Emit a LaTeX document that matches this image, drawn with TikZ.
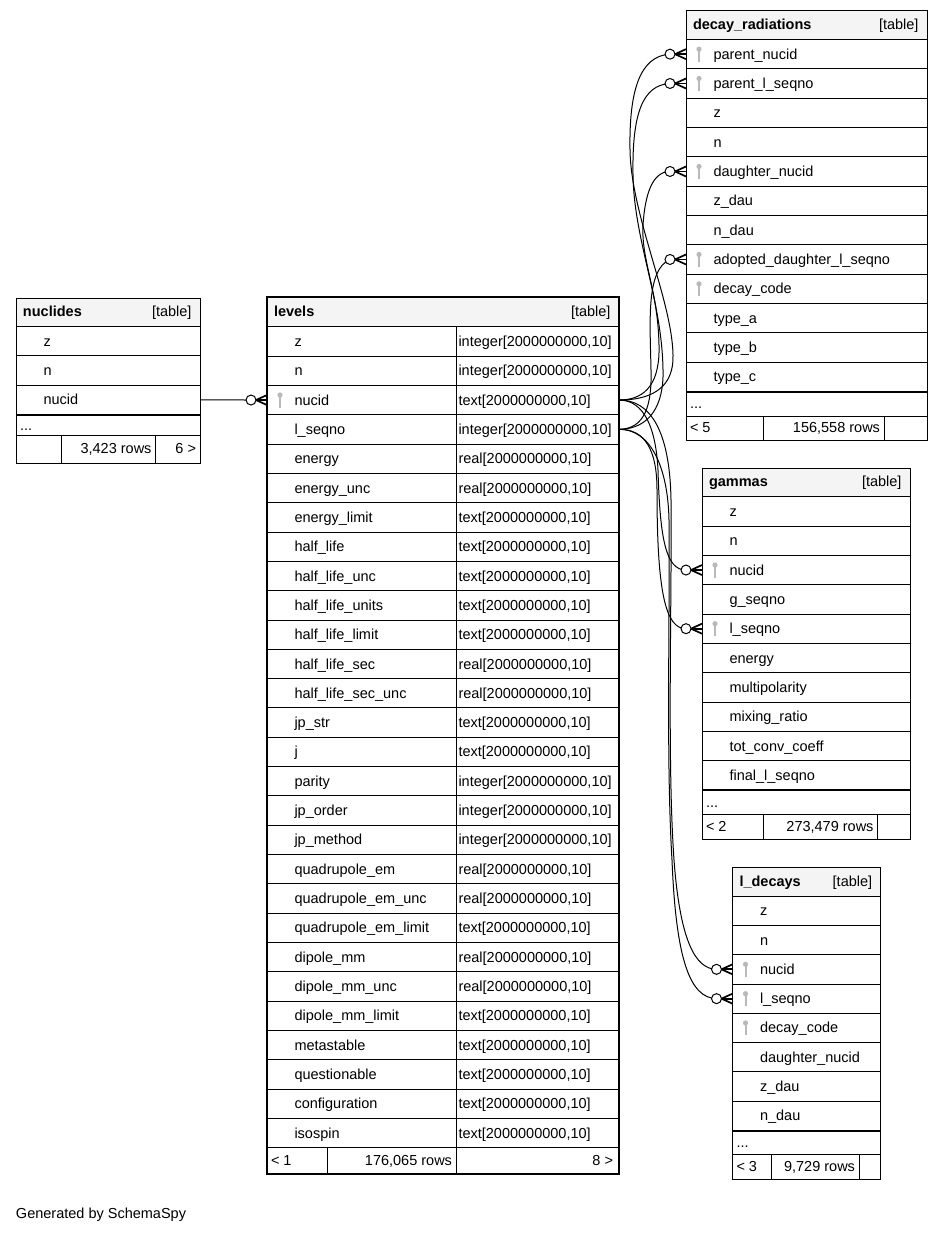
\documentclass[tikz,border=0pt]{standalone}
\usepackage{fontspec}
\setmainfont{Liberation Sans}
\usetikzlibrary{calc}
\definecolor{hdrfill}{RGB}{244,244,244}
\definecolor{keygray}{RGB}{185,185,185}
\newcommand\Tint{integer[2000000000,10]}
\newcommand\Ttext{text[2000000000,10]}
\newcommand\Treal{real[2000000000,10]}
\tikzset{
  every node/.style={font=\fontsize{14.5}{17}\selectfont, inner sep=0pt, outer sep=0pt},
  rowbox/.style={draw=black, line width=1pt, anchor=north west, minimum height=29.33pt, rectangle},
  lbl/.style={anchor=base west},
  rlbl/.style={anchor=base east},
  conn/.style={draw=black, line width=1pt},
  crowline/.style={draw=black, line width=1.7pt},
  ocircle/.style={draw=black, fill=white, line width=1pt},
  tline/.style={draw=black, line width=1pt},
  thickline/.style={draw=black, line width=2pt},
}
% key icon
\newcommand\keyicon[2]{%
  \fill[keygray] (#1,#2-5) circle (2.6pt);
  \draw[keygray, line width=2pt] (#1,#2-3) -- (#1,#2+7.5);}
% rows: #1 id, #2 left, #3 width, #4 first row top, #5 divider offset (0 none), #6 list
\newcommand\dbrows[6]{%
  \foreach \nm/\ky/\ty [count=\i] in {#6} {
    \pgfmathsetmacro\yt{#4+(\i-1)*29.33}
    \pgfmathsetmacro\yc{\yt+14.665}
    \node[rowbox, minimum width=#3pt] (#1-\i) at (#2,\yt) {};
    \node[lbl] (#1-\i-t) at (#2+27.5,\yc+5) {\nm};
    \ifnum\ky=1 \keyicon{#2+13}{\yc}\fi
    \ifdim #5pt>0pt
      \draw[tline] (#2+#5,\yt) -- (#2+#5,\yt+29.33);
      \node[lbl] (#1-\i-ty) at (#2+#5+2.5,\yc+5) {\ty};
    \fi
  }}
% header: #1 id, #2 left, #3 right, #4 top, #5 bottom, #6 title
\newcommand\dbhead[6]{%
  \fill[hdrfill] (#2,#4) rectangle (#3,#5);
  \draw[tline] (#2,#4) rectangle (#3,#5);
  \node[lbl] (#1-title) at (#2+7,{(#4+#5)/2+4.5}) {\textbf{#6}};
  \node[rlbl] (#1-kind) at (#3-8.5,{(#4+#5)/2+4.5}) {[table]};}
% crow's foot with circle: #1 row node
\newcommand\crowend[1]{%
  \draw[crowline] ($(#1.west)+(-11,0)$) -- ($(#1.west)+(0,-5)$);
  \draw[crowline] ($(#1.west)+(-11,0)$) -- (#1.west);
  \draw[crowline] ($(#1.west)+(-11,0)$) -- ($(#1.west)+(0,5)$);
  \draw[ocircle] ($(#1.west)+(-16,0)$) circle (5pt);}

\begin{document}
\begin{tikzpicture}[x=1pt,y=-1pt]
\fill[white] (0,0) rectangle (943,1233);
\useasboundingbox (0,0) rectangle (943,1233);

% ---------------- nuclides
\dbhead{nu}{16}{200}{298}{326.5}{nuclides}
\dbrows{nu}{16}{184}{326.5}{0}{z/0/-, n/0/-, nucid/0/-}
\draw[tline] (16,414.5) rectangle (200,463);
\draw[thickline] (16,414.5) -- (200,414.5);
\draw[tline] (16,435.5) -- (200,435.5);
\node[lbl] (nu-dots) at (20,430.5) {...};
\draw[tline] (61.7,435.5) -- (61.7,463);
\draw[tline] (155.7,435.5) -- (155.7,463);
\node[rlbl] (nu-rows) at (151.5,453.5) {3,423 rows};
\node[rlbl] (nu-next) at (196,453.5) {6 >};

% ---------------- levels
\dbhead{lv}{267}{619}{297}{326.7}{levels}
\dbrows{lv}{267}{352}{326.7}{189}{z/0/\Tint, n/0/\Tint, nucid/1/\Ttext, l\_seqno/0/\Tint,
 energy/0/\Treal, energy\_unc/0/\Treal, energy\_limit/0/\Ttext, half\_life/0/\Ttext,
 half\_life\_unc/0/\Ttext, half\_life\_units/0/\Ttext, half\_life\_limit/0/\Ttext,
 half\_life\_sec/0/\Treal, half\_life\_sec\_unc/0/\Treal, jp\_str/0/\Ttext, j/0/\Ttext,
 parity/0/\Tint, jp\_order/0/\Tint, jp\_method/0/\Tint, quadrupole\_em/0/\Treal,
 quadrupole\_em\_unc/0/\Treal, quadrupole\_em\_limit/0/\Ttext, dipole\_mm/0/\Treal,
 dipole\_mm\_unc/0/\Treal, dipole\_mm\_limit/0/\Ttext, metastable/0/\Ttext,
 questionable/0/\Ttext, configuration/0/\Ttext, isospin/0/\Ttext}
\draw[tline] (267,1147.9) rectangle (619,1174);
\draw[tline] (327.7,1147.9) -- (327.7,1174);
\draw[tline] (456,1147.9) -- (456,1174);
\node[lbl] (lv-prev) at (271,1165.5) {< 1};
\node[rlbl] (lv-rows) at (452,1165.5) {176,065 rows};
\node[rlbl] (lv-next) at (613,1165.5) {8 >};
\draw[draw=black, line width=2.8pt] (267,297) rectangle (619,1174);

% ---------------- decay_radiations
\dbhead{dr}{686}{927}{11}{39.5}{decay\_radiations}
\dbrows{dr}{686}{241}{39.5}{0}{parent\_nucid/1/-, parent\_l\_seqno/1/-, z/0/-, n/0/-,
 daughter\_nucid/1/-, z\_dau/0/-, n\_dau/0/-, adopted\_daughter\_l\_seqno/1/-,
 decay\_code/1/-, type\_a/0/-, type\_b/0/-, type\_c/0/-}
\draw[tline] (686,391.5) rectangle (927,440);
\draw[thickline] (686,391.5) -- (927,391.5);
\draw[tline] (686,416) -- (927,416);
\node[lbl] (dr-dots) at (690,408.5) {...};
\draw[tline] (763.3,416) -- (763.3,440);
\draw[tline] (884.3,416) -- (884.3,440);
\node[lbl] (dr-prev) at (690,432.5) {< 5};
\node[rlbl] (dr-rows) at (880,432.5) {156,558 rows};

% ---------------- gammas
\dbhead{ga}{702}{910}{468.2}{496.7}{gammas}
\dbrows{ga}{702}{208}{496.7}{0}{z/0/-, n/0/-, nucid/1/-, g\_seqno/0/-, l\_seqno/1/-,
 energy/0/-, multipolarity/0/-, mixing\_ratio/0/-, tot\_conv\_coeff/0/-, final\_l\_seqno/0/-}
\draw[tline] (702,790) rectangle (910,839);
\draw[thickline] (702,790) -- (910,790);
\draw[tline] (702,814) -- (910,814);
\node[lbl] (ga-dots) at (706,807) {...};
\draw[tline] (763.3,814) -- (763.3,839);
\draw[tline] (877.7,814) -- (877.7,839);
\node[lbl] (ga-prev) at (706,831) {< 2};
\node[rlbl] (ga-rows) at (873.5,831) {273,479 rows};

% ---------------- l_decays
\dbhead{ld}{732.5}{880.7}{867}{896}{l\_decays}
\dbrows{ld}{732.5}{148.2}{896}{0}{z/0/-, n/0/-, nucid/1/-, l\_seqno/1/-, decay\_code/1/-,
 daughter\_nucid/0/-, z\_dau/0/-, n\_dau/0/-}
\draw[tline] (732.5,1130.6) rectangle (880.7,1179);
\draw[thickline] (732.5,1130.6) -- (880.7,1130.6);
\draw[tline] (732.5,1154) -- (880.7,1154);
\node[lbl] (ld-dots) at (736.5,1147.5) {...};
\draw[tline] (771.7,1154) -- (771.7,1179);
\draw[tline] (859,1154) -- (859,1179);
\node[lbl] (ld-prev) at (736.5,1171) {< 3};
\node[rlbl] (ld-rows) at (855,1171) {9,729 rows};

% ---------------- circle coordinates
\coordinate (c-lv3) at ($(lv-3.west)+(-16,0)$);
\coordinate (c-dr1) at ($(dr-1.west)+(-16,0)$);
\coordinate (c-dr2) at ($(dr-2.west)+(-16,0)$);
\coordinate (c-dr5) at ($(dr-5.west)+(-16,0)$);
\coordinate (c-dr8) at ($(dr-8.west)+(-16,0)$);
\coordinate (c-ga3) at ($(ga-3.west)+(-16,0)$);
\coordinate (c-ga5) at ($(ga-5.west)+(-16,0)$);
\coordinate (c-ld3) at ($(ld-3.west)+(-16,0)$);
\coordinate (c-ld4) at ($(ld-4.west)+(-16,0)$);

% ---------------- connectors
\draw[conn] (nu-3.east) -- (c-lv3);
\draw[conn] (lv-3.east) .. controls (655,400) and (674,385) .. (673,355)
  .. controls (672,300) and (631,215) .. (630,150)
  .. controls (629,90) and (640,56) .. (c-dr1);
\draw[conn] (lv-4.east) .. controls (650,429) and (664,405) .. (663,370)
  .. controls (662,300) and (634,240) .. (633,175)
  .. controls (632,115) and (642,85) .. (c-dr2);
\draw[conn] (lv-3.east) .. controls (648,400) and (660,380) .. (659,345)
  .. controls (658,290) and (641,260) .. (643,225)
  .. controls (645,195) and (652,171.5) .. (c-dr5);
\draw[conn] (lv-4.east) .. controls (645,429) and (652,405) .. (651,370)
  .. controls (650,320) and (646,270) .. (c-dr8);
\draw[conn] (lv-3.east) .. controls (645,400) and (656,430) .. (658,470)
  .. controls (660,540) and (666,570) .. (c-ga3);
\draw[conn] (lv-4.east) .. controls (645,429) and (657,450) .. (657,490)
  .. controls (657,590) and (665,629) .. (c-ga5);
\draw[conn] (lv-3.east) .. controls (655,400) and (670,440) .. (671,500)
  .. controls (672,600) and (667,760) .. (674,860)
  .. controls (680,940) and (695,969) .. (c-ld3);
\draw[conn] (lv-4.east) .. controls (652,429) and (668,470) .. (669,520)
  .. controls (670,620) and (666,760) .. (672,860)
  .. controls (676,960) and (690,998) .. (c-ld4);

% ---------------- crow's feet
\crowend{lv-3}
\crowend{dr-1}
\crowend{dr-2}
\crowend{dr-5}
\crowend{dr-8}
\crowend{ga-3}
\crowend{ga-5}
\crowend{ld-3}
\crowend{ld-4}

\node[lbl] (footer) at (16,1218) {Generated by SchemaSpy};
\end{tikzpicture}
\end{document}
